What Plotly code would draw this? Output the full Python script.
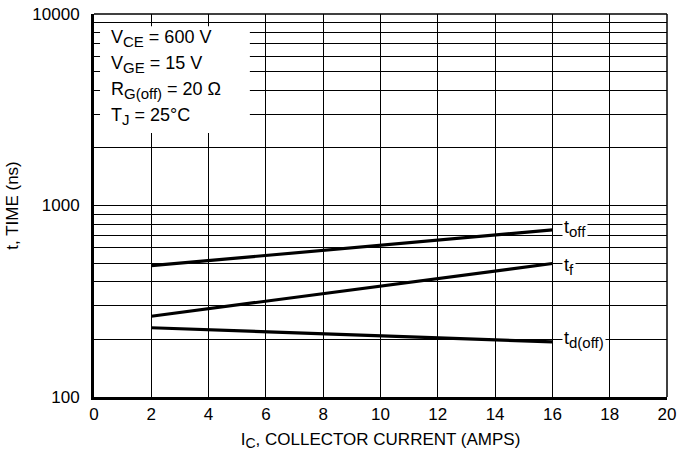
import math
import plotly.graph_objects as go

# Data
ic = [2, 10, 16]
t_off = [485, 620, 746]
t_f = [264, 379, 498]
t_d_off = [230, 209, 194]

x_ticks = [0, 2, 4, 6, 8, 10, 12, 14, 16, 18, 20]
y_ticks = [m * 10 ** e for e in (2, 3) for m in range(1, 10)] + [10000]
y_ticktext = [str(v) if v in (100, 1000, 10000) else "" for v in y_ticks]


def sub(s, px=15):
    return "<sub><span style='font-size:%dpx'>%s</span></sub>" % (px, s)


conditions = [
    "V" + sub("CE") + " = 600 V",
    "V" + sub("GE") + " = 15 V",
    "R" + sub("G(off)") + " = 20 Ω",
    "T" + sub("J") + " = 25°C",
]
series = [("t" + sub("off"), t_off, 1), ("t" + sub("f"), t_f, -3), ("t" + sub("d(off)"), t_d_off, 2)]

FONT = "Liberation Sans, Arial, sans-serif"

fig = go.Figure()
for name, vals, _ in series:
    fig.add_trace(go.Scatter(x=ic, y=vals, mode="lines", line=dict(color="black", width=3.2),
                             showlegend=False, hoverinfo="skip"))

# top and right frame lines
fig.add_shape(type="line", xref="paper", yref="paper", x0=0, x1=1, y0=1, y1=1,
              line=dict(color="black", width=1.5), layer="below")
fig.add_shape(type="line", xref="paper", yref="paper", x0=1, x1=1, y0=0, y1=1,
              line=dict(color="black", width=1.5), layer="below")

# white box behind condition text
fig.add_shape(type="rect", xref="paper", yref="paper", x0=0.0105, x1=0.272, y0=0.689, y1=0.968,
              fillcolor="white", line=dict(width=0), layer="above")

ys = [0.937, 0.869, 0.800, 0.732]
for txt, yy in zip(conditions, ys):
    fig.add_annotation(text=txt, xref="paper", yref="paper", x=0.026, y=yy, xanchor="left",
                       yanchor="middle", showarrow=False, font=dict(family=FONT, size=18, color="black"))

for name, vals, ysh in series:
    fig.add_annotation(text=name, x=ic[-1], y=math.log10(vals[-1]), xref="x", yref="y",
                       xanchor="left", yanchor="middle", xshift=10, yshift=ysh, showarrow=False,
                       bgcolor="white", borderpad=1,
                       font=dict(family=FONT, size=18, color="black"))

fig.update_xaxes(range=[0, 20], tickvals=x_ticks, ticktext=[str(v) for v in x_ticks],
                 showgrid=True, gridcolor="black", gridwidth=1, zeroline=False,
                 showline=True, linecolor="black", linewidth=3, ticks="", automargin=False,
                 ticklabeloverflow="allow",
                 tickfont=dict(family=FONT, size=17, color="black"),
                 title=dict(text="I" + sub("C", 14) + ", COLLECTOR CURRENT (AMPS)", standoff=10,
                            font=dict(family=FONT, size=17, color="black")))
fig.update_yaxes(type="log", range=[2, 4], tickvals=y_ticks, ticktext=y_ticktext,
                 showgrid=True, gridcolor="black", gridwidth=1, zeroline=False,
                 showline=True, linecolor="black", linewidth=3, ticks="", automargin=False,
                 ticklabelstandoff=8, ticklabeloverflow="allow",
                 tickfont=dict(family=FONT, size=17, color="black"),
                 title=dict(text="t, TIME (ns)", standoff=10,
                            font=dict(family=FONT, size=17, color="black")))

fig.update_layout(width=678, height=464, margin=dict(l=94, r=11, t=14, b=67),
                  plot_bgcolor="white", paper_bgcolor="white")

# remove the default page margin so the figure fills the 678x464 window exactly
fig.write_html("out.html", config={"displayModeBar": False},
               post_script="document.body.style.margin='0';")
